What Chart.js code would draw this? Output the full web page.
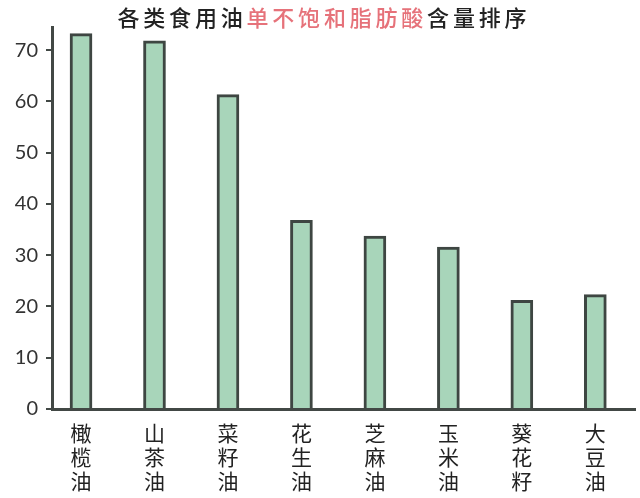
<!DOCTYPE html>
<html>
<head>
<meta charset="utf-8">
<script src="https://cdn.jsdelivr.net/npm/chart.js@4"></script>
<style>
  html, body { margin: 0; padding: 0; background: #fff; }
  #wrap { width: 640px; height: 498px; }
</style>
</head>
<body>
<div id="wrap"><canvas id="chart"></canvas></div>
<script>
// data
const categories = ['橄榄油', '山茶油', '菜籽油', '花生油', '芝麻油', '玉米油', '葵花籽', '大豆油'];
const monoFat = [73.2, 71.8, 61.3, 36.8, 33.7, 31.6, 21.2, 22.3];
const yTicks = [0, 10, 20, 30, 40, 50, 60, 70];
const titleParts = [
  { text: '各类食用油', color: '#222' },
  { text: '单不饱和脂肪酸', color: '#e6727a' },
  { text: '含量排序', color: '#222' }
];

const AXIS_COLOR = '#424845';
const CJK_FONT = '"Noto Sans CJK SC", "Noto Sans", sans-serif';

// title in mixed colours, drawn char by char so the spacing matches
const titlePlugin = {
  id: 'mixedTitle',
  afterDraw (chart) {
    const ctx = chart.ctx;
    ctx.save();
    ctx.font = '500 22px ' + CJK_FONT;
    ctx.textBaseline = 'middle';
    ctx.textAlign = 'center';
    const pitch = 25.8;
    const total = titleParts.reduce((n, p) => n + p.text.length, 0);
    let x = chart.width / 2 + 2 - (total - 1) * pitch / 2;
    titleParts.forEach(part => {
      ctx.fillStyle = part.color;
      for (const ch of part.text) {
        ctx.fillText(ch, x, 18);
        x += pitch;
      }
    });
    ctx.restore();
  }
};

new Chart(document.getElementById('chart'), {
  type: 'bar',
  data: {
    datasets: [{
      data: categories.map((c, i) => ({ x: i, y: monoFat[i] })),
      backgroundColor: '#a8d5ba',
      borderColor: '#3e4642',
      borderWidth: 3,
      borderSkipped: 'bottom',
      barThickness: 22
    }]
  },
  options: {
    responsive: true,
    maintainAspectRatio: false,
    animation: false,
    layout: { padding: { top: 27, right: 5, left: 0, bottom: 0 } },
    plugins: {
      legend: { display: false },
      tooltip: { enabled: false }
    },
    scales: {
      x: {
        type: 'linear',
        offset: false,
        min: -0.395,
        max: 7.54,
        afterBuildTicks: axis => {
          axis.ticks = categories.map((c, i) => ({ value: i }));
        },
        afterFit: axis => { axis.height = 89; },
        grid: { display: false, drawTicks: false, offset: false },
        border: { display: true, color: AXIS_COLOR, width: 3 },
        ticks: {
          autoSkip: false,
          maxRotation: 0,
          padding: 12,
          color: '#222',
          font: { family: CJK_FONT, size: 21, lineHeight: 1.15 },
          callback: v => Array.from(categories[v] || '')
        }
      },
      y: {
        min: 0,
        max: 74.5,
        afterBuildTicks: axis => {
          axis.ticks = yTicks.map(v => ({ value: v }));
        },
        afterFit: axis => { axis.width = 52; },
        grid: {
          drawOnChartArea: false,
          drawTicks: true,
          tickLength: 6,
          color: AXIS_COLOR,
          lineWidth: 2
        },
        border: { display: true, color: AXIS_COLOR, width: 3 },
        ticks: {
          padding: 8,
          color: '#333',
          font: { family: 'Lato, "DejaVu Sans", sans-serif', size: 20 }
        }
      }
    }
  },
  plugins: [titlePlugin]
});
</script>
</body>
</html>
